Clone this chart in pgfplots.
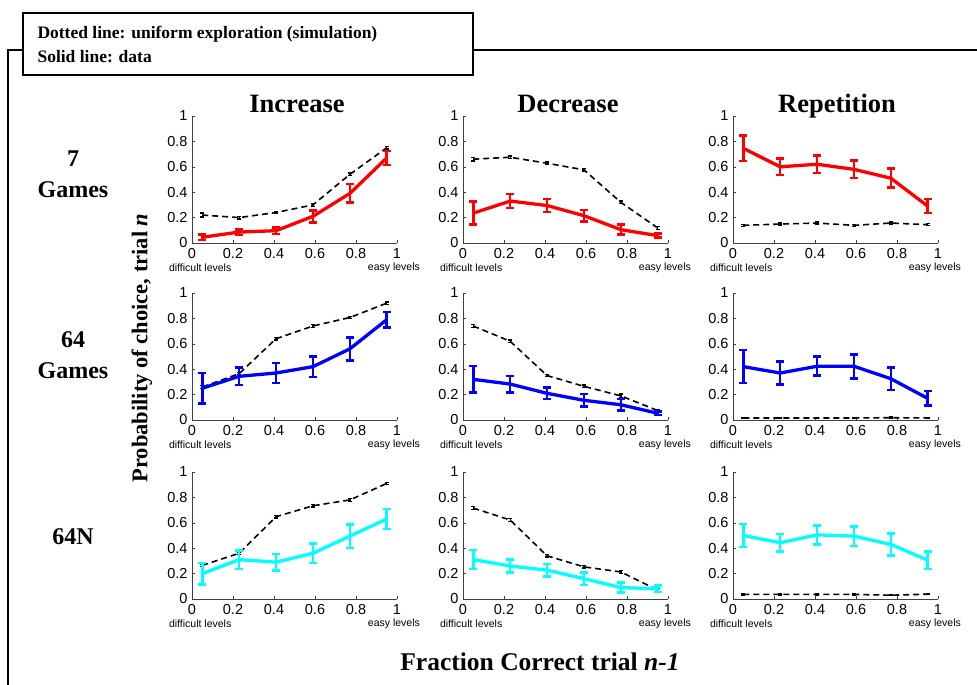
\documentclass[border=0pt]{standalone}
\usepackage{fontspec}
\setmainfont{Liberation Serif}
\newfontfamily\sans{Liberation Sans}
\usepackage{pgfplots}
\pgfplotsset{compat=1.18}
\pgfplotsset{
 pan/.style={scale only axis, width=205pt, height=127pt, xmin=0, xmax=1, ymin=0, ymax=1,
   axis x line*=bottom, axis y line*=left, xtick={0,0.2,0.4,0.6,0.8,1}, ytick={0,0.2,0.4,0.6,0.8,1},
   tick align=inside, major tick length=3pt,
   ticklabel style={font=\fontsize{14.5}{14.5}\selectfont\sans},
   /pgf/number format/assume math mode=true,
   axis line style={line width=0.6pt, black!75}, tick style={black!75},
   xticklabel style={yshift=-2pt}, yticklabel style={xshift=-1pt},
   clip=false, anchor=south west},
 sim/.style={black, line width=1.6pt, dash pattern=on 6pt off 4pt, mark=none,
   error bars/.cd, y dir=both, y explicit, error bar style={line width=1.3pt, solid},
   error mark options={rotate=90, mark size=2pt, line width=1.3pt, solid}},
 dat/.style={line width=3.3pt, mark=none,
   error bars/.cd, y dir=both, y explicit, error bar style={line width=2.6pt},
   error mark options={rotate=90, mark size=4pt, line width=2.6pt}},
}
\definecolor{cy}{RGB}{0,255,255}
\tikzset{lev/.style={font=\fontsize{10.5}{10.5}\selectfont\sans}}
\newcommand{\levels}{%
 \node[lev] at (rel axis cs:0.04,0) [yshift=-25pt] {difficult levels};
 \node[lev] at (rel axis cs:0.985,0) [yshift=-25pt] {easy levels};}
\begin{document}
\begin{tikzpicture}
\path[use as bounding box] (0pt,0pt) rectangle (977pt,685pt);
% frame
\draw[line width=2pt] (8pt,0pt) -- (8pt,635pt) -- (23pt,635pt);
\draw[line width=2pt] (473pt,635pt) -- (977pt,635pt);
\draw[line width=1.6pt] (23pt,610pt) rectangle (473pt,672pt);
\node[anchor=west, font=\fontsize{17.5}{17.5}\selectfont\bfseries] at (34pt,651pt) {Dotted line: uniform exploration (simulation)};
\node[anchor=west, font=\fontsize{17.5}{17.5}\selectfont\bfseries] at (34pt,628pt) {Solid line: data};
% titles
\node[anchor=base, font=\fontsize{26.5}{26.5}\selectfont\bfseries] at (297pt,572pt) {Increase};
\node[anchor=base, font=\fontsize{26.5}{26.5}\selectfont\bfseries] at (568pt,572pt) {Decrease};
\node[anchor=base, font=\fontsize{26.5}{26.5}\selectfont\bfseries] at (837pt,572pt) {Repetition};
% row labels
\node[align=center, font=\fontsize{24}{31}\selectfont\bfseries] at (73pt,511pt) {7\\Games};
\node[align=center, font=\fontsize{24}{31}\selectfont\bfseries] at (73pt,330pt) {64\\Games};
\node[font=\fontsize{24}{31}\selectfont\bfseries] at (73pt,148pt) {64N};
\node[rotate=90, font=\fontsize{22.5}{22.5}\selectfont\bfseries] at (142pt,337pt) {Probability of choice, trial \textit{n}};
\node[font=\fontsize{25.5}{25.5}\selectfont\bfseries] at (540pt,23pt) {Fraction Correct trial \textit{n-1}};

% ===== Row 1: 7 Games (red)
\begin{axis}[pan, at={(192pt,442pt)}]
\addplot[sim] coordinates {(0.05,0.22) +- (0,0.015) (0.23,0.20) +- (0,0.01) (0.41,0.24) +- (0,0.01) (0.59,0.30) +- (0,0.01) (0.77,0.54) +- (0,0.01) (0.95,0.75) +- (0,0.01)};
\addplot[red, dat] coordinates {(0.05,0.045) +- (0,0.02) (0.23,0.086) +- (0,0.022) (0.41,0.097) +- (0,0.026) (0.59,0.21) +- (0,0.047) (0.77,0.39) +- (0,0.073) (0.95,0.67) +- (0,0.055)};
\levels
\end{axis}
\begin{axis}[pan, at={(463pt,442pt)}]
\addplot[sim] coordinates {(0.05,0.66) +- (0,0.015) (0.23,0.675) +- (0,0.01) (0.41,0.628) +- (0,0.01) (0.59,0.576) +- (0,0.01) (0.77,0.32) +- (0,0.01) (0.95,0.118) +- (0,0.01)};
\addplot[red, dat] coordinates {(0.05,0.235) +- (0,0.09) (0.23,0.33) +- (0,0.055) (0.41,0.295) +- (0,0.05) (0.59,0.215) +- (0,0.045) (0.77,0.105) +- (0,0.04) (0.95,0.058) +- (0,0.016)};
\levels
\end{axis}
\begin{axis}[pan, at={(733pt,442pt)}]
\addplot[sim] coordinates {(0.05,0.139) +- (0,0.008) (0.23,0.149) +- (0,0.008) (0.41,0.157) +- (0,0.008) (0.59,0.139) +- (0,0.008) (0.77,0.157) +- (0,0.008) (0.95,0.144) +- (0,0.008)};
\addplot[red, dat] coordinates {(0.05,0.746) +- (0,0.10) (0.23,0.60) +- (0,0.065) (0.41,0.62) +- (0,0.07) (0.59,0.58) +- (0,0.068) (0.77,0.51) +- (0,0.075) (0.95,0.29) +- (0,0.055)};
\levels
\end{axis}

% ===== Row 2: 64 Games (blue)
\begin{axis}[pan, at={(192pt,265pt)}]
\addplot[sim] coordinates {(0.05,0.26) +- (0,0.01) (0.23,0.365) +- (0,0.01) (0.41,0.64) +- (0,0.01) (0.59,0.74) +- (0,0.01) (0.77,0.807) +- (0,0.01) (0.95,0.92) +- (0,0.01)};
\addplot[blue, dat] coordinates {(0.05,0.25) +- (0,0.12) (0.23,0.344) +- (0,0.07) (0.41,0.37) +- (0,0.08) (0.59,0.42) +- (0,0.082) (0.77,0.56) +- (0,0.09) (0.95,0.79) +- (0,0.06)};
\levels
\end{axis}
\begin{axis}[pan, at={(463pt,265pt)}]
\addplot[sim] coordinates {(0.05,0.74) +- (0,0.01) (0.23,0.62) +- (0,0.01) (0.41,0.35) +- (0,0.01) (0.59,0.265) +- (0,0.01) (0.77,0.19) +- (0,0.015) (0.95,0.074) +- (0,0.01)};
\addplot[blue, dat] coordinates {(0.05,0.32) +- (0,0.105) (0.23,0.283) +- (0,0.065) (0.41,0.21) +- (0,0.045) (0.59,0.155) +- (0,0.05) (0.77,0.12) +- (0,0.045) (0.95,0.053) +- (0,0.015)};
\levels
\end{axis}
\begin{axis}[pan, at={(733pt,265pt)}]
\addplot[sim] coordinates {(0.05,0.016) +- (0,0.005) (0.23,0.016) +- (0,0.005) (0.41,0.016) +- (0,0.005) (0.59,0.016) +- (0,0.005) (0.77,0.018) +- (0,0.005) (0.95,0.016) +- (0,0.005)};
\addplot[blue, dat] coordinates {(0.05,0.42) +- (0,0.13) (0.23,0.37) +- (0,0.09) (0.41,0.423) +- (0,0.075) (0.59,0.423) +- (0,0.095) (0.77,0.325) +- (0,0.088) (0.95,0.17) +- (0,0.057)};
\levels
\end{axis}

% ===== Row 3: 64N (cyan)
\begin{axis}[pan, at={(192pt,86pt)}]
\addplot[sim] coordinates {(0.05,0.265) +- (0,0.01) (0.23,0.36) +- (0,0.01) (0.41,0.648) +- (0,0.01) (0.59,0.734) +- (0,0.01) (0.77,0.78) +- (0,0.01) (0.95,0.91) +- (0,0.01)};
\addplot[cy, dat] coordinates {(0.05,0.20) +- (0,0.085) (0.23,0.31) +- (0,0.073) (0.41,0.29) +- (0,0.065) (0.59,0.36) +- (0,0.075) (0.77,0.495) +- (0,0.092) (0.95,0.63) +- (0,0.08)};
\levels
\end{axis}
\begin{axis}[pan, at={(463pt,86pt)}]
\addplot[sim] coordinates {(0.05,0.716) +- (0,0.01) (0.23,0.622) +- (0,0.01) (0.41,0.34) +- (0,0.01) (0.59,0.253) +- (0,0.01) (0.77,0.213) +- (0,0.01) (0.95,0.07) +- (0,0.01)};
\addplot[cy, dat] coordinates {(0.05,0.31) +- (0,0.075) (0.23,0.26) +- (0,0.05) (0.41,0.227) +- (0,0.048) (0.59,0.16) +- (0,0.05) (0.77,0.09) +- (0,0.04) (0.95,0.08) +- (0,0.025)};
\levels
\end{axis}
\begin{axis}[pan, at={(733pt,86pt)}]
\addplot[sim] coordinates {(0.05,0.036) +- (0,0.005) (0.23,0.036) +- (0,0.005) (0.41,0.036) +- (0,0.005) (0.59,0.036) +- (0,0.005) (0.77,0.03) +- (0,0.005) (0.95,0.038) +- (0,0.005)};
\addplot[cy, dat] coordinates {(0.05,0.50) +- (0,0.09) (0.23,0.443) +- (0,0.07) (0.41,0.505) +- (0,0.075) (0.59,0.495) +- (0,0.078) (0.77,0.43) +- (0,0.088) (0.95,0.305) +- (0,0.07)};
\levels
\end{axis}
\end{tikzpicture}
\end{document}
